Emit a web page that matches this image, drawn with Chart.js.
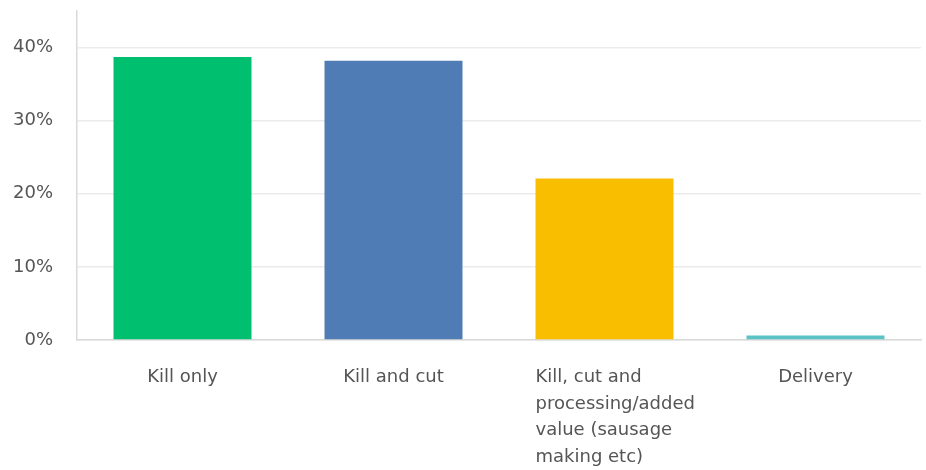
<!DOCTYPE html>
<html>
<head>
<meta charset="utf-8">
<script src="https://cdn.jsdelivr.net/npm/chart.js@4/dist/chart.umd.min.js"></script>
<style>
  html, body { margin: 0; padding: 0; background: #ffffff; }
  #wrap { width: 926px; height: 470px; position: relative; }
</style>
</head>
<body>
<div id="wrap"><canvas id="c"></canvas></div>
<script>
const categories = [
  ["Kill only"],
  ["Kill and cut"],
  ["Kill, cut and", "processing/added", "value (sausage", "making etc)"],
  ["Delivery"]
];
const values = [38.7, 38.2, 22.1, 0.6];
const barColors = ["#00BF6F", "#507CB6", "#F9BE00", "#5BC3C6"];
const yTickValues = [0, 10, 20, 30, 40];

// Lay multi-line category labels out as a left-aligned block, like the reference
const leftBlockLabels = {
  id: 'leftBlockLabels',
  beforeDraw(chart) {
    const scale = chart.scales.x;
    const items = scale.getLabelItems(chart.chartArea);
    const ctx = chart.ctx;
    const bars = chart.getDatasetMeta(0).data;
    items.forEach((item, i) => {
      const lines = Array.isArray(item.label) ? item.label : [item.label];
      ctx.save();
      ctx.font = item.font.string;
      const w = Math.max(...lines.map(l => ctx.measureText(l).width));
      ctx.restore();
      const cx = item.options.translation[0];
      const bw = bars[i] ? bars[i].width : w;
      item.options.textAlign = 'left';
      item.options.translation = [cx - Math.min(w, bw) / 2, item.options.translation[1]];
    });
  }
};

new Chart(document.getElementById('c'), {
  type: 'bar',
  data: {
    labels: categories,
    datasets: [{
      data: values,
      backgroundColor: barColors,
      borderWidth: 0,
      barPercentage: 0.654,
      categoryPercentage: 1.0
    }]
  },
  plugins: [leftBlockLabels],
  options: {
    responsive: true,
    maintainAspectRatio: false,
    animation: false,
    layout: { padding: { top: 11, right: 5, bottom: 0, left: 0 } },
    plugins: { legend: { display: false }, tooltip: { enabled: false } },
    scales: {
      x: {
        grid: { display: false, drawTicks: false },
        border: { display: true, color: '#d9d9d9', width: 1.5 },
        ticks: {
          color: '#555555',
          font: { family: 'DejaVu Sans', size: 18, lineHeight: 1.48 },
          padding: 24,
          maxRotation: 0,
          autoSkip: false
        },
        afterFit: (s) => { s.height = 130; }
      },
      y: {
        min: 0,
        max: 45,
        afterBuildTicks: (s) => { s.ticks = yTickValues.map(v => ({ value: v })); },
        grid: { color: '#ebebeb', lineWidth: 1.5, drawTicks: false },
        border: { display: true, color: '#d9d9d9', width: 1.5 },
        ticks: {
          color: '#555555',
          font: { family: 'DejaVu Sans', size: 18 },
          padding: 24,
          callback: (v) => v + '%'
        },
        afterFit: (s) => { s.width = 77; s.paddingTop = 0; s.paddingBottom = 0; }
      }
    }
  }
});
</script>
</body>
</html>
